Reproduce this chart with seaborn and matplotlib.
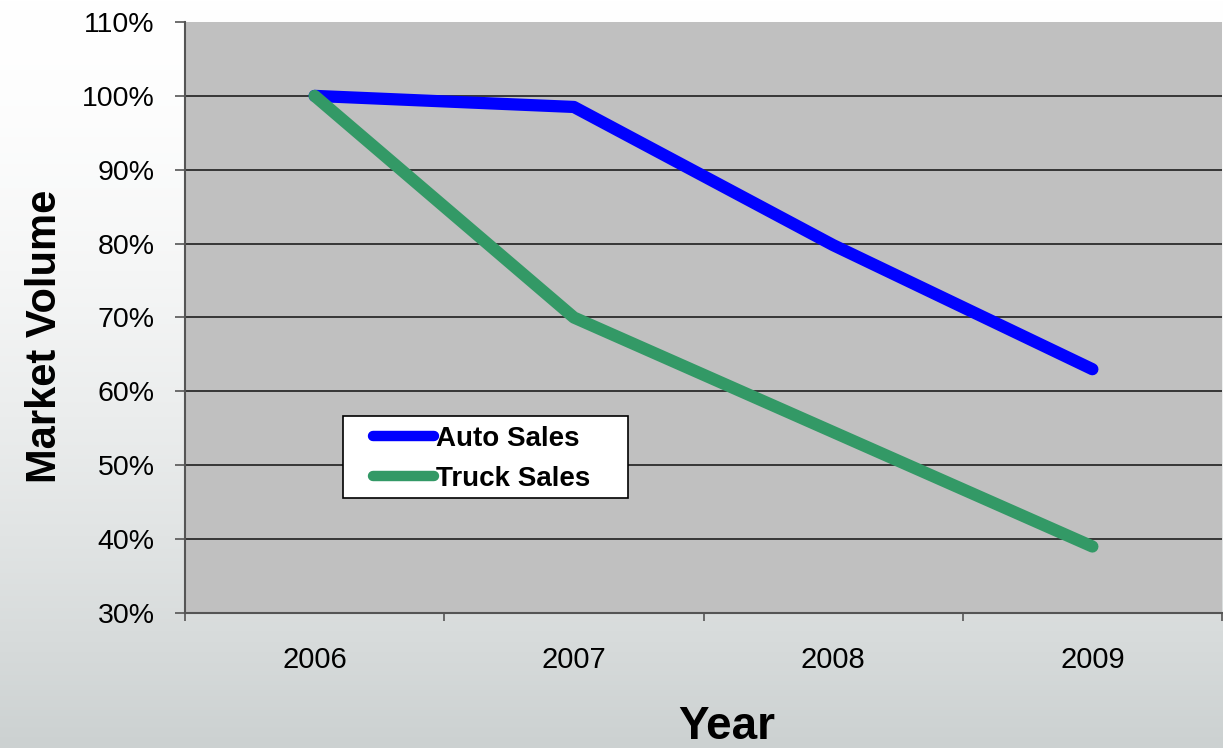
import numpy as np
import pandas as pd
import matplotlib
matplotlib.use("Agg")
import matplotlib.pyplot as plt
from matplotlib.patches import Rectangle
import seaborn as sns

# ---- data ----
years = ["2006", "2007", "2008", "2009"]
auto_sales = [100.0, 98.5, 79.8, 63.0]
truck_sales = [100.0, 70.0, 54.5, 39.0]
series_names = ["Auto Sales", "Truck Sales"]
y_ticks = [30, 40, 50, 60, 70, 80, 90, 100, 110]

df = pd.DataFrame({
    "Year": years * 2,
    "Value": auto_sales + truck_sales,
    "Series": [series_names[0]] * len(years) + [series_names[1]] * len(years),
})

sns.set_theme(style="white")
plt.rcParams["font.family"] = ["Liberation Sans", "DejaVu Sans"]
plt.rcParams["text.color"] = "black"
plt.rcParams["axes.labelcolor"] = "black"
plt.rcParams["xtick.color"] = "black"
plt.rcParams["ytick.color"] = "black"

fig = plt.figure(figsize=(12.23, 7.48), dpi=100)
fig.patch.set_facecolor("white")

# background gradient (decoration, like the photo behind the original chart)
bg = fig.add_axes([0, 0, 1, 1], zorder=-10)
grad = np.linspace(0, 1, 256) ** 1.6
top = np.array([1.0, 1.0, 1.0])
bot = np.array([0.80, 0.82, 0.82])
img = top[None, None, :] * (1 - grad[:, None, None]) + bot[None, None, :] * grad[:, None, None]
img = np.repeat(img, 4, axis=1)
bg.imshow(img, aspect="auto", extent=[0, 1, 0, 1], origin="upper")
bg.axis("off")

ax = fig.add_axes([185 / 1223, 1 - 613 / 748, 1037 / 1223, 591 / 748])
ax.set_facecolor("#C0C0C0")

palette = {series_names[0]: "#0000FF", series_names[1]: "#339966"}
sns.lineplot(data=df, x="Year", y="Value", hue="Series", palette=palette,
             linewidth=8.8, ax=ax, legend=True, sort=False, zorder=3)
for ln in ax.get_lines():
    ln.set_solid_capstyle("round")
    ln.set_solid_joinstyle("round")

ax.set_xlim(-0.5, len(years) - 0.5)
ax.set_ylim(y_ticks[0], y_ticks[-1])
ax.set_yticks(y_ticks)
ax.set_yticklabels([f"{v}%" for v in y_ticks])
ax.set_xticks(range(len(years)))
ax.set_xticklabels(years)
ax.set_xticks(np.arange(-0.5, len(years), 1.0), minor=True)

ax.yaxis.grid(True, color="#111111", linewidth=1.1)
ax.xaxis.grid(False)
ax.set_axisbelow(True)

for side in ["top", "right"]:
    ax.spines[side].set_visible(False)
for side in ["left", "bottom"]:
    ax.spines[side].set_visible(True)
    ax.spines[side].set_color("#555555")
    ax.spines[side].set_linewidth(1.5)

ax.tick_params(axis="y", which="major", direction="out", length=7, width=1.2,
               color="#555555", pad=15, labelsize=20.5, labelcolor="black", left=True)
ax.tick_params(axis="x", which="major", length=0, pad=24, labelsize=21, labelcolor="black")
ax.tick_params(axis="x", which="minor", direction="out", length=6, width=1.2,
               color="#555555", bottom=True)

fig.canvas.draw()
gl = ax.yaxis.get_gridlines()
gl[-1].set_visible(False)

ax.set_xlabel("Year", fontsize=33, fontweight="bold", va="center")
ax.xaxis.set_label_coords((727 - 185) / 1037, -(727 - 613) / 591)
ax.set_ylabel("Market Volume", fontsize=30, fontweight="bold", va="center", ha="center")
ax.yaxis.set_label_coords((45 - 185) / 1037, (613 - 336) / 591)

# legend
handles, labels = ax.get_legend_handles_labels()
ax.add_patch(Rectangle(((343 - 185) / 1037, (613 - 498) / 591), 285 / 1037, 82 / 591,
                       transform=ax.transAxes, facecolor="white", edgecolor="black",
                       linewidth=1.2, zorder=4))
leg = ax.legend(handles, labels, frameon=False, loc="center left",
                bbox_to_anchor=((373 - 185) / 1037, (613 - 459) / 591),
                borderpad=0, borderaxespad=0, handlelength=2.2, handletextpad=0.08,
                labelspacing=0.5, prop={"size": 20, "weight": "bold"})
leg.set_zorder(5)
for lh in leg.get_lines():
    lh.set_linewidth(7.5)
    lh.set_solid_capstyle("round")

fig.savefig("out.png", dpi=100)
